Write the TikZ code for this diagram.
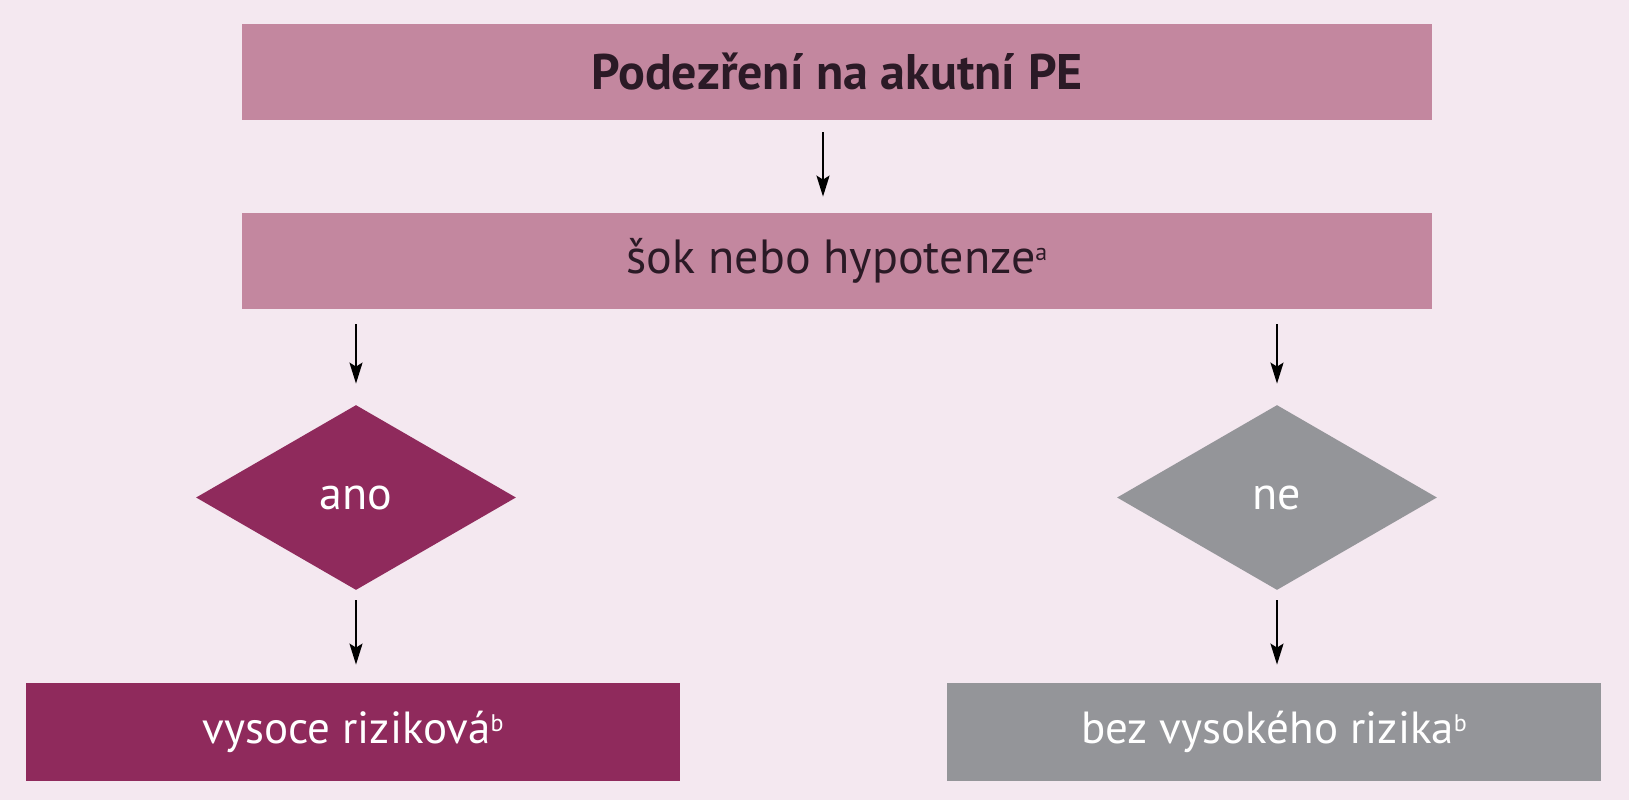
\documentclass[tikz,border=0pt]{standalone}
\usepackage{fontspec}
\setmainfont{PT Sans}
\usetikzlibrary{shapes.geometric,arrows.meta}

\definecolor{bgpink}{HTML}{F4E8F0}
\definecolor{boxpink}{HTML}{C3879F}
\definecolor{darkrose}{HTML}{8F2A5C}
\definecolor{midgray}{HTML}{949599}
\definecolor{inkdark}{HTML}{2B1A26}

\newcommand{\supmark}[1]{\raisebox{0.55ex}{\fontsize{12}{12}\selectfont #1}}

\begin{document}
\begin{tikzpicture}[x=0.5pt, y=-0.5pt,
		headbox/.style = {rectangle, fill=boxpink, text=inkdark, minimum width=595pt, minimum height=48pt, inner sep=0pt},
		endbox/.style = {rectangle, text=white, minimum width=327pt, minimum height=49pt, inner sep=0pt, font=\fontsize{22.5}{26}\selectfont},
		choice/.style = {diamond, text=white, minimum width=160pt, minimum height=92.5pt, inner sep=0pt, font=\fontsize{23}{26}\selectfont},
		flow/.style = {-{Stealth[length=10.5pt,width=6.5pt,inset=2pt]}, line width=1pt, draw=black}]
		\useasboundingbox (0,0) rectangle (1629,800);
		\fill[bgpink] (0,0) rectangle (1629,800);

		\draw (837,72) node[headbox, font=\fontsize{25}{28}\selectfont\bfseries] (suspect) {Podezření na akutní PE};
		\draw (837,261) node[headbox, font=\fontsize{24}{28}\selectfont] (shock) {šok nebo hypotenze\supmark{a}};

		\draw (356,497.5) node[choice, fill=darkrose] (yes) {ano};
		\draw (1277,497.5) node[choice, fill=midgray] (no) {ne};

		\draw (353,732) node[endbox, fill=darkrose] (high) {vysoce riziková\supmark{b}};
		\draw (1274,732) node[endbox, fill=midgray] (nothigh) {bez vysokého rizika\supmark{b}};

		\draw [flow, shorten <=6pt, shorten >=8pt] ([xshift=-7pt]suspect.south) -- ([xshift=-7pt]shock.north);
		\draw [flow, shorten <=7.5pt, shorten >=10.5pt] (yes.north |- shock.south) -- (yes.north);
		\draw [flow, shorten <=7.5pt, shorten >=10.5pt] (no.north |- shock.south) -- (no.north);
		\draw [flow, shorten <=5pt, shorten >=9pt] (yes.south) -- (yes.south |- high.north);
		\draw [flow, shorten <=5pt, shorten >=9pt] (no.south) -- (no.south |- nothigh.north);
	\end{tikzpicture}
\end{document}
